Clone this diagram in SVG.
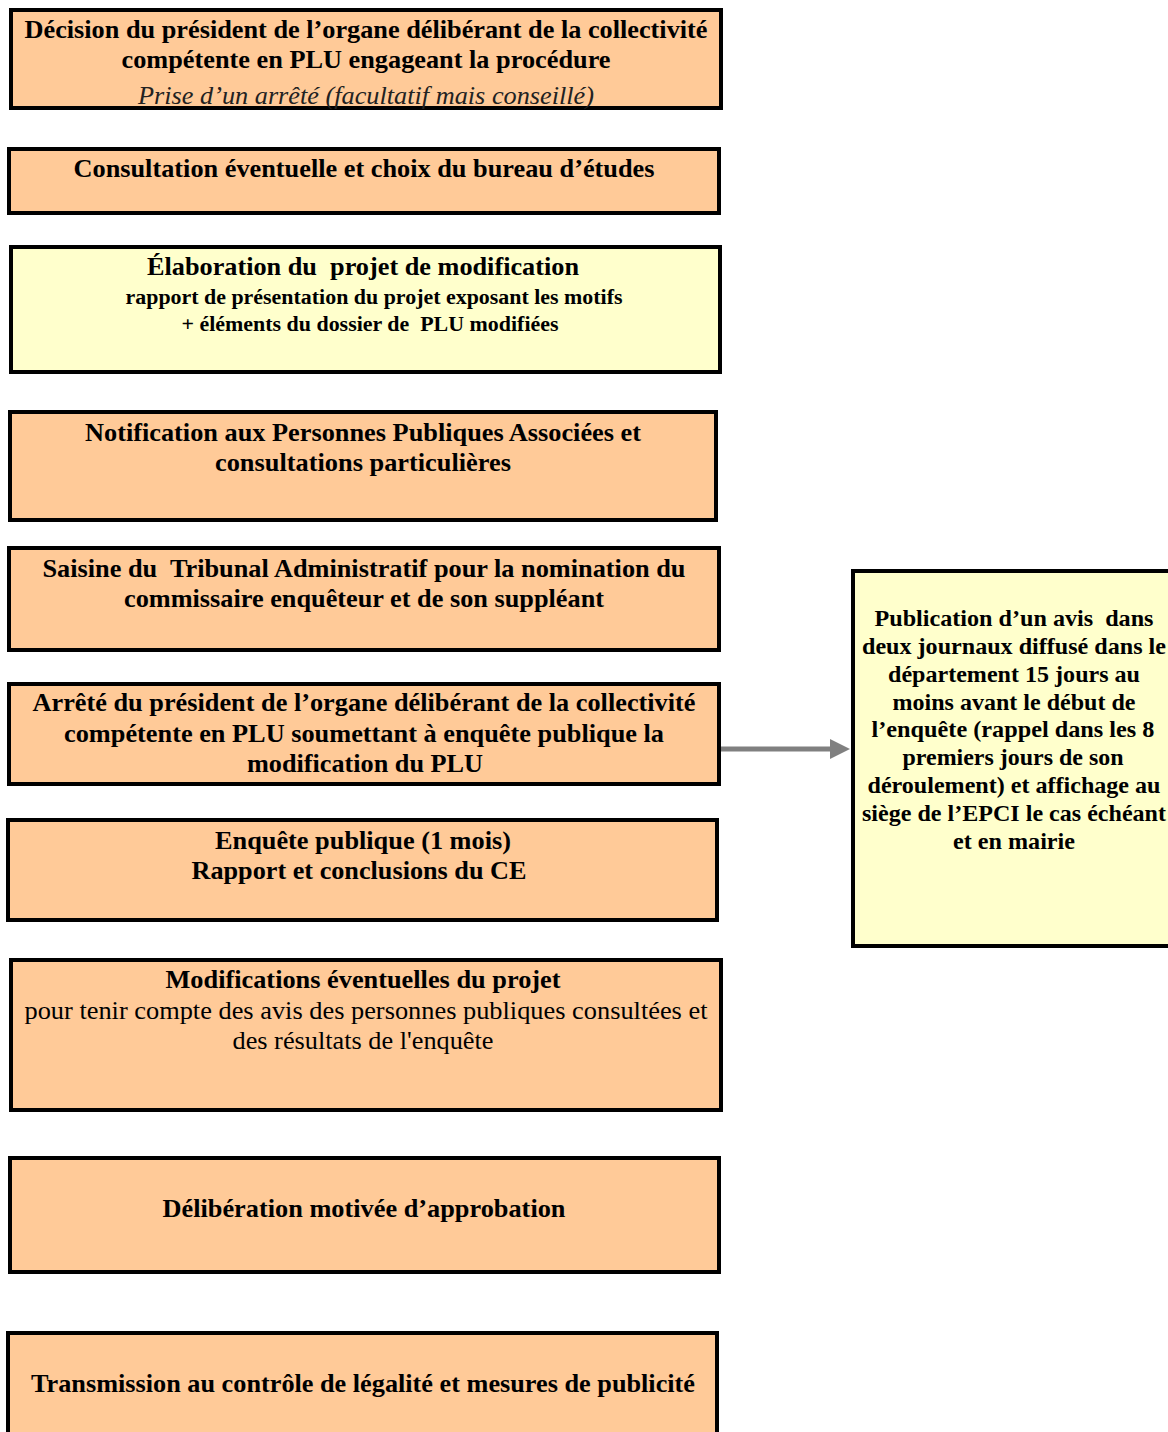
<svg xmlns="http://www.w3.org/2000/svg" width="1168" height="1432" viewBox="0 0 1168 1432">
<style>
.box{stroke:#000;stroke-width:4}
.or{fill:#FFCA98}
.ye{fill:#FFFFCC}
text{font-family:"Liberation Serif","Times New Roman",serif;fill:#000;text-anchor:middle;white-space:pre}
.b{font-weight:bold;font-size:26px}
.s{font-weight:bold;font-size:20px}
.r{font-size:25px}
.i{font-style:italic;font-size:25px;fill:#222}
.rb{font-weight:bold;font-size:23px}
</style>
<rect width="1168" height="1432" fill="#fff"/>
<g id="connectors">
<line x1="719" y1="749" x2="832" y2="749" stroke="#808080" stroke-width="5"/>
<polygon points="830,739 850,749 830,759" fill="#808080"/>
</g>
<g id="n1">
<rect class="box or" x="11" y="10" width="710" height="98"/>
<text class="b" x="366" y="38" textLength="683" lengthAdjust="spacingAndGlyphs">Décision du président de l’organe délibérant de la collectivité</text>
<text class="b" x="366" y="68" textLength="489" lengthAdjust="spacingAndGlyphs">compétente en PLU engageant la procédure</text>
<text class="i" x="366" y="104" textLength="456" lengthAdjust="spacingAndGlyphs">Prise d’un arrêté (facultatif mais conseillé)</text>
</g>
<g id="n2">
<rect class="box or" x="9" y="149" width="710" height="64"/>
<text class="b" x="364" y="177" textLength="581" lengthAdjust="spacingAndGlyphs">Consultation éventuelle et choix du bureau d’études</text>
</g>
<g id="n3">
<rect class="box ye" x="11" y="247" width="709" height="125"/>
<text class="b" x="363" y="275" textLength="432" lengthAdjust="spacingAndGlyphs">Élaboration du  projet de modification</text>
<text class="s" x="374" y="304" textLength="497" lengthAdjust="spacingAndGlyphs">rapport de présentation du projet exposant les motifs</text>
<text class="s" x="370" y="331" textLength="377" lengthAdjust="spacingAndGlyphs">+ éléments du dossier de  PLU modifiées</text>
</g>
<g id="n4">
<rect class="box or" x="10" y="412" width="706" height="108"/>
<text class="b" x="363" y="441" textLength="556" lengthAdjust="spacingAndGlyphs">Notification aux Personnes Publiques Associées et</text>
<text class="b" x="363" y="471" textLength="296" lengthAdjust="spacingAndGlyphs">consultations particulières</text>
</g>
<g id="n5">
<rect class="box or" x="9" y="548" width="710" height="102"/>
<text class="b" x="364" y="577" textLength="643" lengthAdjust="spacingAndGlyphs">Saisine du  Tribunal Administratif pour la nomination du</text>
<text class="b" x="364" y="607" textLength="480" lengthAdjust="spacingAndGlyphs">commissaire enquêteur et de son suppléant</text>
</g>
<g id="n6">
<rect class="box or" x="9" y="684" width="710" height="100"/>
<text class="b" x="364" y="711" textLength="663" lengthAdjust="spacingAndGlyphs">Arrêté du président de l’organe délibérant de la collectivité</text>
<text class="b" x="364" y="742" textLength="600" lengthAdjust="spacingAndGlyphs">compétente en PLU soumettant à enquête publique la</text>
<text class="b" x="365" y="772" textLength="236" lengthAdjust="spacingAndGlyphs">modification du PLU</text>
</g>
<g id="n7">
<rect class="box or" x="8" y="820" width="709" height="100"/>
<text class="b" x="363" y="849" textLength="296" lengthAdjust="spacingAndGlyphs">Enquête publique (1 mois)</text>
<text class="b" x="359" y="879" textLength="335" lengthAdjust="spacingAndGlyphs">Rapport et conclusions du CE</text>
</g>
<g id="n8">
<rect class="box or" x="11" y="960" width="710" height="150"/>
<text class="b" x="363" y="988" textLength="395" lengthAdjust="spacingAndGlyphs">Modifications éventuelles du projet</text>
<text class="r" x="366" y="1019" textLength="683" lengthAdjust="spacingAndGlyphs">pour tenir compte des avis des personnes publiques consultées et</text>
<text class="r" x="363" y="1049" textLength="261" lengthAdjust="spacingAndGlyphs">des résultats de l'enquête</text>
</g>
<g id="n9">
<rect class="box or" x="10" y="1158" width="709" height="114"/>
<text class="b" x="364" y="1217" textLength="403" lengthAdjust="spacingAndGlyphs">Délibération motivée d’approbation</text>
</g>
<g id="n10">
<rect class="box or" x="8" y="1333" width="709" height="110"/>
<text class="b" x="363" y="1392" textLength="664" lengthAdjust="spacingAndGlyphs">Transmission au contrôle de légalité et mesures de publicité</text>
</g>
<g id="n11">
<rect class="box ye" x="853" y="571" width="320" height="375"/>
<text class="rb" x="1014" y="626" textLength="279" lengthAdjust="spacingAndGlyphs">Publication d’un avis  dans</text>
<text class="rb" x="1014" y="654" textLength="304" lengthAdjust="spacingAndGlyphs">deux journaux diffusé dans le</text>
<text class="rb" x="1014" y="682" textLength="252" lengthAdjust="spacingAndGlyphs">département 15 jours au</text>
<text class="rb" x="1014" y="710" textLength="243" lengthAdjust="spacingAndGlyphs">moins avant le début de</text>
<text class="rb" x="1013" y="737" textLength="283" lengthAdjust="spacingAndGlyphs">l’enquête (rappel dans les 8</text>
<text class="rb" x="1013" y="765" textLength="221" lengthAdjust="spacingAndGlyphs">premiers jours de son</text>
<text class="rb" x="1014" y="793" textLength="293" lengthAdjust="spacingAndGlyphs">déroulement) et affichage au</text>
<text class="rb" x="1014" y="821" textLength="304" lengthAdjust="spacingAndGlyphs">siège de l’EPCI le cas échéant</text>
<text class="rb" x="1014" y="849" textLength="122" lengthAdjust="spacingAndGlyphs">et en mairie</text>
</g>
</svg>
